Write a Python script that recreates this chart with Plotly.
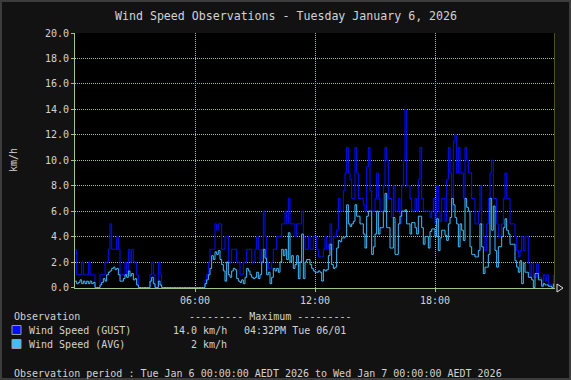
import plotly.graph_objects as go

TITLE = "Wind Speed Observations - Tuesday January 6, 2026"
Y_LABEL = "km/h"
X_TICK_HOURS = [6, 12, 18]
X_TICK_LABELS = ["06:00", "12:00", "18:00"]
Y_TICKS = [0, 2, 4, 6, 8, 10, 12, 14, 16, 18, 20]
Y_TICK_LABELS = ["0.0", "2.0", "4.0", "6.0", "8.0", "10.0", "12.0", "14.0", "16.0", "18.0", "20.0"]
SERIES_NAMES = ["Wind Speed (GUST)", "Wind Speed (AVG)"]
SERIES_MAX = ["14.0 km/h", "2 km/h"]
GUST_MAX_TIME = "04:32PM Tue 06/01"
LEGEND_HEAD = "Observation"
MAX_HEAD = "--------- Maximum ---------"
PERIOD = "Observation period : Tue Jan 6 00:00:00 AEDT 2026 to Wed Jan 7 00:00:00 AEDT 2026"
STEP_MINUTES = 5

# 5-minute samples, one row per hour
gust = [
    3, 1, 1, 1, 2, 1, 1, 1, 2, 1, 1, 1,
    0, 0, 0, 1, 1, 1, 2, 2, 3, 5, 3, 3,
    3, 4, 3, 1, 1, 1, 2, 1, 3, 2, 3, 2,
    2, 1, 0, 0, 0, 0, 0, 0, 0, 1, 2, 1,
    0, 0, 2, 1, 0, 0, 0, 0, 0, 0, 0, 0,
    0, 0, 0, 0, 0, 0, 0, 0, 0, 0, 0, 0,
    0, 0, 0, 0, 0, 0, 0.6, 1, 2, 3, 3, 3,
    5, 4.5, 5, 5, 3, 3, 4, 4, 2, 2, 3, 3,
    3, 2, 2, 1, 1, 2, 2, 3, 3, 3, 2, 2,
    3, 4, 3, 2, 3, 6, 4, 2, 1.5, 1.5, 2, 3,
    3, 4, 4, 4, 5, 5, 6, 5, 7, 5, 5, 5,
    4, 5, 5, 5, 6, 4, 3, 3, 4, 3, 3, 4,
    4, 3, 2.4, 2.4, 2.4, 3, 4, 3, 3.4, 5, 3, 4,
    4, 4.5, 7, 6, 6, 7.6, 9, 11, 9, 8.5, 7, 7,
    11, 9, 7, 7, 7, 6.5, 6, 9.5, 11, 7.6, 6, 6,
    7, 9, 7, 6, 6, 8, 11, 10, 7, 7, 5.5, 8,
    6, 6, 7, 5, 8, 10, 14, 8, 8, 7, 6, 6,
    7, 6, 8.5, 11, 7, 6, 6, 6, 6, 5.5, 6, 7,
    5, 8, 6, 5.2, 7, 7, 5.2, 8.5, 11, 9, 6, 11.5,
    12, 9, 11, 9, 9, 7, 11, 10, 9, 9, 7, 7,
    5, 5, 6, 8, 5, 4, 2.9, 5, 7, 9, 10, 7,
    7, 5, 4, 4, 5, 7, 9, 7, 7, 5, 5, 5,
    4, 2.9, 2.4, 2.9, 4, 2.9, 4, 4, 1.9, 0.8, 1.9, 0.8,
    0.8, 1.9, 0.8, 0.8, 0.2, 1.0, 0.5, 1.0, 0.2, 0.2, 0, 1.0,
]

avg = [
    0.5, 0.3, 0.4, 0.6, 0.3, 0.5, 0.3, 0.5, 0.3, 0.5, 0.3, 0.4,
    0, 0, 0, 0.2, 0.4, 0.7, 0.5, 1.0, 1.2, 1.3, 1.5, 1.6,
    1.4, 1.5, 1.0, 0.5, 0.5, 0.7, 1.0, 0.8, 1.3, 0.9, 1.1, 0.6,
    0.7, 0.2, 0, 0, 0, 0, 0, 0, 0, 0.5, 0.8, 0.3,
    0, 0, 0.5, 0.2, 0, 0, 0, 0, 0, 0, 0, 0,
    0, 0, 0, 0, 0, 0, 0, 0, 0, 0, 0, 0,
    0, 0, 0, 0, 0, 0, 0.3, 0.6, 1.0, 1.5, 2.5, 2.2,
    2.8, 2.6, 2.9, 2.2, 1.8, 1.3, 0.5, 2.0, 1.0, 0.8, 1.3, 1.5,
    1.4, 0.7, 0.5, 0.4, 0.6, 0.3, 0.8, 1.5, 1.3, 1.0, 0.8, 0.7,
    0.8, 1.2, 0.7, 1.0, 2.0, 3.0, 2.3, 1.0, 1.2, 0.3, 0.8, 1.5,
    1.3, 1.5, 1.2, 2.0, 3.0, 2.5, 3.0, 2.2, 4.3, 2.0, 2.5, 1.5,
    1.8, 2.5, 0.7, 2.0, 4.2, 0.7, 2.0, 2.2, 2.2, 1.8, 1.5, 1.3,
    1.2, 1.2, 1.3, 1.2, 0.5, 1.4, 1.3, 1.4, 2.5, 3.4, 1.8, 1.5,
    1.6, 3.1, 3.7, 3.6, 3.9, 3.9, 4.0, 6.5, 5.0, 4.8, 5.0, 5.2,
    6.5, 5.6, 5.6, 5.0, 5.0, 4.2, 3.1, 5.6, 6.0, 6.0, 2.6, 3.2,
    4.2, 6.0, 4.2, 4.7, 4.7, 6.0, 7.4, 4.7, 4.7, 3.1, 3.1, 5.5,
    2.6, 2.6, 5.0, 5.6, 6.0, 6.0, 6.1, 5.0, 5.0, 4.2, 5.1, 5.1,
    4.7, 4.2, 5.6, 5.6, 4.7, 3.4, 4.0, 4.0, 3.1, 4.4, 4.6, 4.6,
    4.0, 5.4, 2.9, 3.9, 4.5, 4.5, 4.1, 3.7, 5.0, 5.5, 7.0, 6.5,
    5.5, 5.0, 3.2, 5.0, 4.5, 3.7, 7.0, 6.3, 6.0, 3.2, 2.6, 2.6,
    2.4, 2.4, 2.9, 5.0, 3.2, 1.1, 1.6, 1.6, 2.6, 7.0, 4.5, 6.4,
    2.9, 1.6, 3.2, 3.2, 4.0, 4.7, 5.4, 4.5, 4.2, 3.4, 3.4, 3.4,
    2.1, 1.6, 1.2, 2.1, 0.3, 1.9, 1.2, 1.2, 0.8, 0.8, 0.6, 0,
    1.1, 1.1, 0.6, 0.6, 0.1, 0.3, 0.2, 0.2, 0.1, 0.1, 0, 0.3,
]

assert len(gust) == 288 and len(avg) == 288, (len(gust), len(avg))

hours = [i * STEP_MINUTES / 60 for i in range(len(gust))]

W, H = 571, 380
ML, MR, MT, MB = 75, 16, 33, 92
PW, PH = W - ML - MR, H - MT - MB

def px(x):
    return (x - ML) / PW

def py(y):
    return (H - MB - y) / PH

FONT = "DejaVu Sans Mono"
TXT = "#d2d2d2"
GRID = "#9fc48e"
GUST_C = "#0010ff"
AVG_C = "#40bcff"

fig = go.Figure()
fig.add_trace(go.Scatter(x=hours, y=gust, mode="lines", line=dict(color=GUST_C, width=1, shape="hv"),
                         name=SERIES_NAMES[0], showlegend=False))
fig.add_trace(go.Scatter(x=hours, y=avg, mode="lines", line=dict(color=AVG_C, width=1, shape="hv"),
                         name=SERIES_NAMES[1], showlegend=False))

fig.update_layout(
    width=W, height=H, autosize=False,
    margin=dict(l=ML, r=MR, t=MT, b=MB, pad=0),
    paper_bgcolor="#121212", plot_bgcolor="#000000",
    font=dict(family=FONT, size=10, color=TXT),
    showlegend=False,
)
fig.update_xaxes(range=[0, 24], tickvals=X_TICK_HOURS, ticktext=X_TICK_LABELS,
                 showgrid=True, gridcolor=GRID, griddash="1px,1px", gridwidth=1,
                 showline=True, linecolor=GRID, linewidth=1,
                 ticks="outside", ticklen=3, tickcolor=GRID, zeroline=False,
                 layer="below traces", tickfont=dict(family=FONT, size=10, color=TXT))
fig.update_yaxes(range=[-0.04, 20], tickvals=Y_TICKS, ticktext=Y_TICK_LABELS,
                 showgrid=True, gridcolor=GRID, griddash="1px,1px", gridwidth=1,
                 showline=True, linecolor=GRID, linewidth=1,
                 ticks="outside", ticklen=3, tickcolor=GRID, zeroline=False,
                 layer="below traces", tickfont=dict(family=FONT, size=10, color=TXT))

shapes = []
# outer frame
shapes.append(dict(type="rect", xref="paper", yref="paper",
                   x0=px(1), x1=px(W - 1), y0=py(H - 1), y1=py(1),
                   line=dict(color="#3c3c3c", width=2), fillcolor="rgba(0,0,0,0)", layer="below"))
# right edge line
shapes.append(dict(type="line", xref="x", yref="paper", x0=24, x1=24, y0=0, y1=1,
                   line=dict(color="#9c9c3c", width=1)))
# x-axis arrow
ax0, ay = ML + PW + 2, H - MB
shapes.append(dict(type="path", xref="paper", yref="paper",
                   path=f"M {px(ax0)},{py(ay-4)} L {px(ax0)},{py(ay+4)} L {px(ax0+6)},{py(ay)} Z",
                   line=dict(color="#e0e0e0", width=1), fillcolor="#121212"))
# legend swatches
for yc, col in [(330, GUST_C), (344, AVG_C)]:
    shapes.append(dict(type="rect", xref="paper", yref="paper",
                       x0=px(12), x1=px(21), y0=py(yc + 4.5), y1=py(yc - 4.5),
                       line=dict(color="#9a9a9a", width=1), fillcolor=col))
fig.update_layout(shapes=shapes)

ann = []
def text(x, y, s, size=10, xanchor="left", angle=0):
    ann.append(dict(x=px(x), y=py(y), xref="paper", yref="paper", text=s, showarrow=False,
                    xanchor=xanchor, yanchor="middle", textangle=angle,
                    font=dict(family=FONT, size=size, color=TXT)))

text(286, 16, TITLE, size=11.6, xanchor="center")
text(13, 160, Y_LABEL, angle=-90, xanchor="center")
text(12, 316, LEGEND_HEAD)
text(187, 316, MAX_HEAD)
text(26.5, 330, SERIES_NAMES[0])
text(229, 330, SERIES_MAX[0], xanchor="right")
text(242, 330, GUST_MAX_TIME)
text(26.5, 344, SERIES_NAMES[1])
text(229, 344, SERIES_MAX[1], xanchor="right")
text(12, 373, PERIOD)
fig.update_layout(annotations=ann)

fig.write_html("out.html", config={"displayModeBar": False},
               post_script="document.body.style.margin='0px';document.body.style.overflow='hidden';")
